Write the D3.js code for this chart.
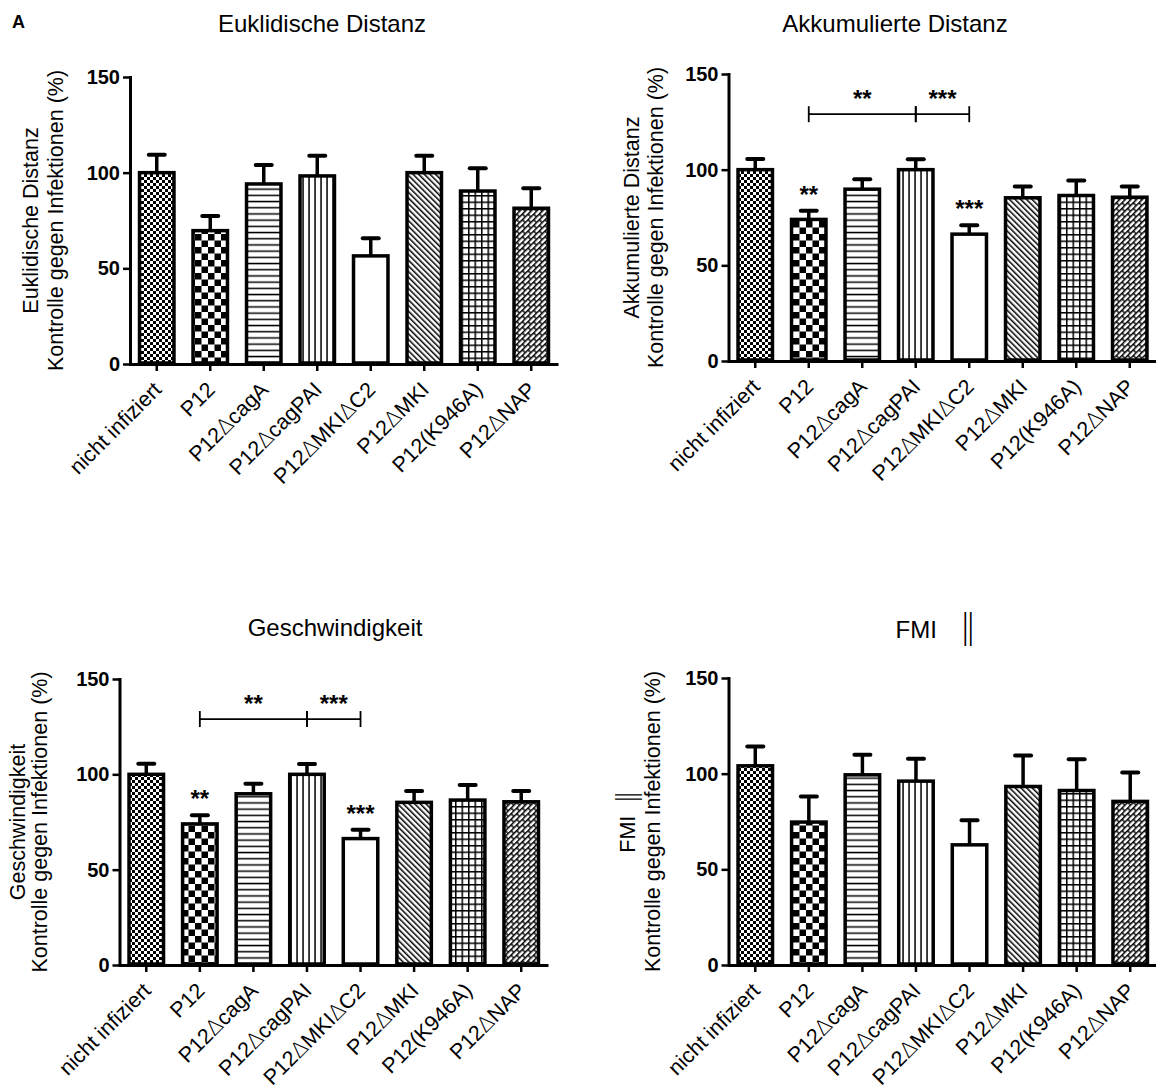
<!DOCTYPE html>
<html>
<head>
<meta charset="utf-8">
<script src="https://cdn.jsdelivr.net/npm/d3@7"></script>
<style>
body { margin: 0; background: #fff; }
svg { font-family: "Liberation Sans", Arial, sans-serif; }
</style>
</head>
<body>
<svg id="chart" width="1156" height="1090"></svg>
<script>
// categories shared by all four panels
var categories = ['nicht infiziert', 'P12', 'P12\u2206cagA', 'P12\u2206cagPAI', 'P12\u2206MKI\u2206C2',
                  'P12\u2206MKI', 'P12(K946A)', 'P12\u2206NAP'];
var yTicks = [0, 50, 100, 150];

// means and upper error (SEM)
var euklidMean = [100, 69.7, 94.1, 98.3, 56.5, 100, 90.4, 81.4];
var euklidSem  = [9.3, 7.7, 9.9, 10.6, 9.2, 8.9, 11.9, 10.4];
var akkuMean   = [100, 74, 89.8, 100, 66.3, 85.3, 86.5, 85.6];
var akkuSem    = [5.6, 4.5, 5.2, 5.4, 4.7, 5.9, 7.9, 5.6];
var geschwMean = [100, 74, 89.8, 100, 66.3, 85.3, 86.5, 85.6];
var geschwSem  = [5.6, 4.5, 5.2, 5.4, 4.7, 5.9, 7.9, 5.6];
var fmiMean    = [104.1, 74.7, 99.4, 96.1, 62.8, 93.3, 91.2, 85.5];
var fmiSem     = [10.1, 13.4, 10.5, 11.7, 12.9, 16.2, 16.4, 15.1];

// significance marks (index into categories)
var barStars = [[1, '**'], [4, '***']];
var brackets = [[1, 3, '**'], [3, 4, '***']];
var bracketLevel = 129;

var FONT = '"Liberation Sans", Arial, sans-serif';
var svg = d3.select('#chart');
var defs = svg.append('defs');

function addPattern(id, w, h, transform) {
    var p = defs.append('pattern')
        .attr('id', id)
        .attr('patternUnits', 'userSpaceOnUse')
        .attr('width', w)
        .attr('height', h);
    if (transform) p.attr('patternTransform', transform);
    p.append('rect').attr('width', w).attr('height', h).attr('fill', '#fff');
    return p;
}

// fine checker
var p0 = addPattern('pat0', 6, 6);
p0.append('rect').attr('width', 3).attr('height', 3);
p0.append('rect').attr('x', 3).attr('y', 3).attr('width', 3).attr('height', 3);
// coarse checker
var p1 = addPattern('pat1', 13, 13);
p1.append('rect').attr('width', 6.5).attr('height', 6.5);
p1.append('rect').attr('x', 6.5).attr('y', 6.5).attr('width', 6.5).attr('height', 6.5);
// horizontal lines
var p2 = addPattern('pat2', 6.2, 6.2);
p2.append('rect').attr('y', 2.4).attr('width', 6.2).attr('height', 1.5);
// vertical lines
var p3 = addPattern('pat3', 6, 6);
p3.append('rect').attr('x', 2.3).attr('width', 1.5).attr('height', 6);
// empty
addPattern('pat4', 6, 6);
// diagonal lines
var p5 = addPattern('pat5', 4, 10, 'rotate(-45)');
p5.append('rect').attr('width', 1.5).attr('height', 10);
// grid
var p6 = addPattern('pat6', 6.5, 6.5);
p6.append('rect').attr('width', 6.5).attr('height', 1.5);
p6.append('rect').attr('width', 1.5).attr('height', 6.5);
// woven / brick diagonal
var p7 = addPattern('pat7', 8, 8, 'rotate(-45)');
p7.append('path')
    .attr('d', 'M0,0.7H8M0,4.7H8M2,0.7V4.7M6,4.7V8.7')
    .attr('stroke', '#000').attr('stroke-width', 1.4).attr('fill', 'none');

var panels = [
    { title: 'Euklidische Distanz', ylab: 'Euklidische Distanz', mean: euklidMean, sem: euklidSem, sig: false,
      x0: 130, x1: 558, yTop: 77, yBot: 364, titleX: 322, titleY: 32, lab1: 30, lab2: 55 },
    { title: 'Akkumulierte Distanz', ylab: 'Akkumulierte Distanz', mean: akkuMean, sem: akkuSem, sig: true,
      x0: 728.5, x1: 1156.5, yTop: 74, yBot: 361, titleX: 895, titleY: 32, lab1: 631, lab2: 655 },
    { title: 'Geschwindigkeit', ylab: 'Geschwindigkeit', mean: geschwMean, sem: geschwSem, sig: true,
      x0: 119.5, x1: 548, yTop: 679, yBot: 965, titleX: 335, titleY: 636, lab1: 17, lab2: 39 },
    { title: 'FMI \u2016', ylab: 'FMI \u2016', mean: fmiMean, sem: fmiSem, sig: false,
      x0: 728.5, x1: 1157, yTop: 678, yBot: 965, titleX: 936, titleY: 638, lab1: 627, lab2: 652 }
];

// write a label, drawing the delta and the double bar in their own font
function fillText(sel, str, bigBar, gap) {
    sel.text(null);
    str.split(/([\u2206\u2016])/).forEach(function (part) {
        if (!part) return;
        var t = sel.append('tspan').text(part);
        if (part == '\u2206') {
            t.attr('font-family', '"DejaVu Sans", sans-serif').attr('font-weight', 200);
        } else if (part == '\u2016') {
            t.attr('font-family', '"DejaVu Sans", sans-serif').attr('font-weight', 200)
             .attr('font-size', bigBar).attr('dx', gap || 4);
        }
    });
}

function drawPanel(cfg) {
    var g = svg.append('g');
    var x = d3.scaleBand()
        .domain(categories)
        .range([cfg.x0, cfg.x1])
        .paddingInner(0.3)
        .paddingOuter(0.15);
    var y = d3.scaleLinear().domain([0, 150]).range([cfg.yBot, cfg.yTop]);
    var cx = function (d) { return x(d.cat) + x.bandwidth() / 2; };

    var data = categories.map(function (c, i) {
        return { cat: c, mean: cfg.mean[i], sem: cfg.sem[i], i: i };
    });

    // error bars (upper only)
    g.selectAll('line.err').data(data).enter().append('line')
        .attr('class', 'err')
        .attr('x1', cx).attr('x2', cx)
        .attr('y1', function (d) { return y(d.mean); })
        .attr('y2', function (d) { return y(d.mean + d.sem); })
        .attr('stroke', '#000').attr('stroke-width', 3.5);
    g.selectAll('line.cap').data(data).enter().append('line')
        .attr('class', 'cap')
        .attr('x1', function (d) { return cx(d) - 8; })
        .attr('x2', function (d) { return cx(d) + 8; })
        .attr('y1', function (d) { return y(d.mean + d.sem); })
        .attr('y2', function (d) { return y(d.mean + d.sem); })
        .attr('stroke', '#000').attr('stroke-width', 4).attr('stroke-linecap', 'round');

    // bars
    g.selectAll('rect.bar').data(data).enter().append('rect')
        .attr('class', 'bar')
        .attr('x', function (d) { return x(d.cat) + 1.5; })
        .attr('width', x.bandwidth() - 3)
        .attr('y', function (d) { return y(d.mean); })
        .attr('height', function (d) { return y(0) - y(d.mean) - 1; })
        .attr('fill', function (d) { return 'url(#pat' + d.i + ')'; })
        .attr('stroke', '#000').attr('stroke-width', 3.5);

    // y axis
    var ya = g.append('g')
        .attr('transform', 'translate(' + cfg.x0 + ',0)')
        .call(d3.axisLeft(y).tickValues(yTicks).tickSize(7).tickSizeOuter(0).tickPadding(3));
    ya.select('.domain').attr('stroke-width', 3).attr('stroke-linecap', 'square');
    ya.selectAll('.tick line').attr('stroke-width', 2.5);
    ya.selectAll('.tick text')
        .attr('font-size', 20).attr('font-weight', 'bold')
        .attr('font-family', FONT);

    // x axis
    var xa = g.append('g')
        .attr('transform', 'translate(0,' + cfg.yBot + ')')
        .call(d3.axisBottom(x).tickSize(7).tickSizeOuter(0));
    xa.select('.domain').attr('stroke-width', 3);
    xa.selectAll('.tick line').attr('stroke-width', 2.5);
    xa.selectAll('.tick text')
        .attr('x', 0).attr('y', 0).attr('dy', 0)
        .attr('transform', 'translate(6,27) rotate(-45)')
        .attr('text-anchor', 'end')
        .attr('font-size', 21.5)
        .attr('font-family', FONT)
        .each(function (d) { fillText(d3.select(this), d, 26); });

    // title
    fillText(svg.append('text')
        .attr('x', cfg.titleX).attr('y', cfg.titleY)
        .attr('text-anchor', 'middle')
        .attr('font-size', 24), cfg.title, 34, 16);

    // y label (two lines)
    var midY = (cfg.yTop + cfg.yBot) / 2;
    [[cfg.lab1, cfg.ylab], [cfg.lab2, 'Kontrolle gegen Infektionen (%)']].forEach(function (l) {
        fillText(svg.append('text')
            .attr('transform', 'translate(' + l[0] + ',' + midY + ') rotate(-90)')
            .attr('text-anchor', 'middle')
            .attr('dy', '0.35em')
            .attr('font-size', 21.5), l[1], 27, 6);
    });

    if (cfg.sig) {
        // stars above bars
        barStars.forEach(function (s) {
            var d = data[s[0]];
            g.append('text')
                .attr('x', cx(d))
                .attr('y', y(d.mean + d.sem) - 8)
                .attr('text-anchor', 'middle')
                .attr('font-size', 24).attr('font-weight', 'bold')
                .text(s[1]);
        });
        // comparison brackets
        var by = y(bracketLevel);
        brackets.forEach(function (b) {
            var xa0 = cx(data[b[0]]), xa1 = cx(data[b[1]]);
            g.append('line')
                .attr('x1', xa0).attr('x2', xa1).attr('y1', by).attr('y2', by)
                .attr('stroke', '#000').attr('stroke-width', 1.8);
            [xa0, xa1].forEach(function (xx) {
                g.append('line')
                    .attr('x1', xx).attr('x2', xx).attr('y1', by - 8).attr('y2', by + 8)
                    .attr('stroke', '#000').attr('stroke-width', 1.8);
            });
            g.append('text')
                .attr('x', (xa0 + xa1) / 2)
                .attr('y', by - 7)
                .attr('text-anchor', 'middle')
                .attr('font-size', 24).attr('font-weight', 'bold')
                .text(b[2]);
        });
    }
}

panels.forEach(drawPanel);

svg.append('text')
    .attr('x', 12).attr('y', 28)
    .attr('font-size', 18).attr('font-weight', 'bold')
    .text('A');
</script>
</body>
</html>
